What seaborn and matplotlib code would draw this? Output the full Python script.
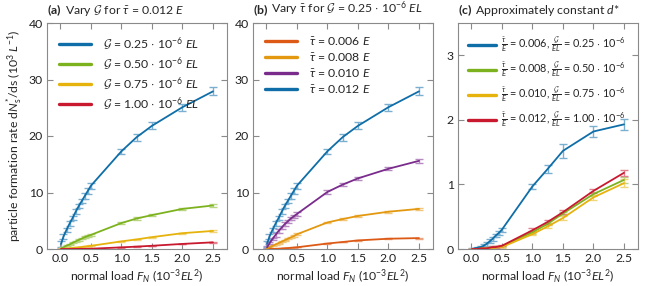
import numpy as np
import pandas as pd
import seaborn as sns
import matplotlib
matplotlib.use("Agg")
import matplotlib.pyplot as plt
from matplotlib.colors import to_rgb

# ---------------- data ----------------
load = [0.01, 0.05, 0.1, 0.15, 0.2, 0.25, 0.3, 0.35, 0.4, 0.45, 0.5, 1.0, 1.25, 1.5, 2.0, 2.5]

# tau = 0.012 E, G = 0.25e-6 EL
r_t012_g025 = [0.9, 2.2, 3.4, 4.5, 5.5, 6.6, 7.6, 8.5, 9.4, 10.3, 11.2, 17.3, 19.8, 21.8, 25.1, 27.9]
e_t012_g025 = [0.5, 0.4, 0.4, 0.4, 0.4, 0.4, 0.4, 0.4, 0.5, 0.5, 0.5, 0.4, 0.6, 0.6, 0.6, 0.7]
# tau = 0.012 E, G = 0.50e-6 EL
r_t012_g050 = [0.1, 0.3, 0.6, 0.8, 1.1, 1.35, 1.6, 1.85, 2.1, 2.3, 2.5, 4.6, 5.4, 6.0, 7.1, 7.7]
e_t012_g050 = [0.1, 0.1, 0.1, 0.1, 0.1, 0.1, 0.1, 0.1, 0.15, 0.15, 0.15, 0.15, 0.2, 0.2, 0.2, 0.2]
# tau = 0.012 E, G = 0.75e-6 EL
r_t012_g075 = [0.0, 0.03, 0.08, 0.13, 0.18, 0.24, 0.3, 0.36, 0.43, 0.5, 0.56, 1.35, 1.7, 2.1, 2.8, 3.2]
e_t012_g075 = [0.02, 0.03, 0.03, 0.04, 0.04, 0.05, 0.05, 0.05, 0.06, 0.06, 0.06, 0.08, 0.1, 0.1, 0.12, 0.12]
# tau = 0.012 E, G = 1.00e-6 EL
r_t012_g100 = [0.0, 0.0, 0.0, 0.01, 0.01, 0.01, 0.02, 0.03, 0.03, 0.04, 0.05, 0.29, 0.42, 0.57, 0.90, 1.18]
e_t012_g100 = [0.0, 0.0, 0.0, 0.0, 0.01, 0.01, 0.01, 0.01, 0.01, 0.01, 0.01, 0.03, 0.03, 0.03, 0.03, 0.05]
# tau = 0.006 E, G = 0.25e-6 EL
r_t006_g025 = [0.0, 0.01, 0.02, 0.03, 0.05, 0.08, 0.12, 0.16, 0.21, 0.25, 0.3, 0.97, 1.24, 1.52, 1.82, 1.93]
e_t006_g025 = [0.01, 0.01, 0.01, 0.02, 0.02, 0.03, 0.03, 0.03, 0.03, 0.03, 0.03, 0.04, 0.06, 0.11, 0.09, 0.09]
# tau = 0.008 E, G = 0.25e-6 EL
r_t008_g025 = [0.1, 0.3, 0.55, 0.8, 1.05, 1.3, 1.55, 1.8, 2.05, 2.3, 2.6, 4.7, 5.3, 5.85, 6.6, 7.1]
e_t008_g025 = [0.1, 0.1, 0.1, 0.1, 0.1, 0.1, 0.1, 0.1, 0.15, 0.15, 0.15, 0.15, 0.15, 0.2, 0.2, 0.2]
# tau = 0.010 E, G = 0.25e-6 EL
r_t010_g025 = [0.3, 1.0, 1.8, 2.5, 3.2, 3.8, 4.4, 4.9, 5.4, 5.8, 6.2, 10.1, 11.4, 12.5, 14.2, 15.6]
e_t010_g025 = [0.2, 0.2, 0.2, 0.3, 0.3, 0.3, 0.3, 0.3, 0.3, 0.3, 0.3, 0.3, 0.3, 0.3, 0.3, 0.4]
# tau = 0.008 E, G = 0.50e-6 EL
r_t008_g050 = [0.0, 0.0, 0.0, 0.01, 0.01, 0.01, 0.02, 0.02, 0.03, 0.03, 0.04, 0.26, 0.39, 0.55, 0.85, 1.07]
e_t008_g050 = [0.0, 0.0, 0.0, 0.0, 0.01, 0.01, 0.01, 0.01, 0.01, 0.01, 0.01, 0.02, 0.02, 0.03, 0.03, 0.05]
# tau = 0.010 E, G = 0.75e-6 EL
r_t010_g075 = [0.0, 0.0, 0.0, 0.0, 0.01, 0.01, 0.01, 0.02, 0.02, 0.03, 0.03, 0.23, 0.35, 0.48, 0.80, 1.02]
e_t010_g075 = [0.0, 0.0, 0.0, 0.0, 0.01, 0.01, 0.01, 0.01, 0.01, 0.01, 0.01, 0.02, 0.02, 0.03, 0.04, 0.06]

C_BLUE = "#0f6ea8"
C_GREEN = "#7db21f"
C_YELLOW = "#e6b30c"
C_RED = "#c8192f"
C_ORANGERED = "#dd5a16"
C_ORANGE = "#e3980f"
C_PURPLE = "#7a2c8c"

GVAL = r"$\mathcal{G}$"
TAU = r"$\tilde{\tau}$"

panel_a = [
    (r_t012_g025, e_t012_g025, C_BLUE, GVAL + r" = 0.25 $\cdot$ 10$^{-6}$ $EL$"),
    (r_t012_g050, e_t012_g050, C_GREEN, GVAL + r" = 0.50 $\cdot$ 10$^{-6}$ $EL$"),
    (r_t012_g075, e_t012_g075, C_YELLOW, GVAL + r" = 0.75 $\cdot$ 10$^{-6}$ $EL$"),
    (r_t012_g100, e_t012_g100, C_RED, GVAL + r" = 1.00 $\cdot$ 10$^{-6}$ $EL$"),
]
panel_b = [
    (r_t006_g025, e_t006_g025, C_ORANGERED, TAU + r" = 0.006 $E$"),
    (r_t008_g025, e_t008_g025, C_ORANGE, TAU + r" = 0.008 $E$"),
    (r_t010_g025, e_t010_g025, C_PURPLE, TAU + r" = 0.010 $E$"),
    (r_t012_g025, e_t012_g025, C_BLUE, TAU + r" = 0.012 $E$"),
]
FR_T = r"$\frac{\tilde{\tau}}{E}$"
FR_G = r"$\frac{\mathcal{G}}{EL}$"
panel_c = [
    (r_t006_g025, e_t006_g025, C_BLUE, FR_T + " = 0.006, " + FR_G + r" = 0.25 $\cdot$ 10$^{-6}$"),
    (r_t008_g050, e_t008_g050, C_GREEN, FR_T + " = 0.008, " + FR_G + r" = 0.50 $\cdot$ 10$^{-6}$"),
    (r_t010_g075, e_t010_g075, C_YELLOW, FR_T + " = 0.010, " + FR_G + r" = 0.75 $\cdot$ 10$^{-6}$"),
    (r_t012_g100, e_t012_g100, C_RED, FR_T + " = 0.012, " + FR_G + r" = 1.00 $\cdot$ 10$^{-6}$"),
]

# ---------------- style ----------------
sns.set_theme(style="ticks")
FONT = "Lato"
plt.rcParams["font.family"] = [FONT, "DejaVu Sans"]
plt.rcParams["mathtext.fontset"] = "custom"
plt.rcParams["mathtext.rm"] = FONT
plt.rcParams["mathtext.it"] = FONT + ":italic"
plt.rcParams["mathtext.bf"] = FONT + ":bold"
plt.rcParams["mathtext.cal"] = "cmsy10"
plt.rcParams["font.size"] = 8.5
GREY = "#8a8a8a"
FS = 8.8


def lighten(c, f=0.45):
    r, g, b = to_rgb(c)
    return (r + (1 - r) * f, g + (1 - g) * f, b + (1 - b) * f)


fig = plt.figure(figsize=(6.5, 2.86), dpi=100)
W = 180 / 650
H = 226 / 286
B = 37 / 286
lefts = [47 / 650, 253 / 650, 458 / 650]
axes = [fig.add_axes([l, B, W, H]) for l in lefts]

titles = [
    (r"$\mathbf{(a)}$", r" Vary $\mathcal{G}$ for $\tilde{\tau}$ = 0.012 $E$"),
    (r"$\mathbf{(b)}$", r" Vary $\tilde{\tau}$ for $\mathcal{G}$ = 0.25 $\cdot$ 10$^{-6}$ $EL$"),
    (r"$\mathbf{(c)}$", r" Approximately constant $d$*"),
]
panels = [panel_a, panel_b, panel_c]
ylims = [(0, 40), (0, 40), (0, 3.5)]
yticks = [[0, 10, 20, 30, 40], [0, 10, 20, 30, 40], [0, 1, 2, 3]]

for i, ax in enumerate(axes):
    for vals, errs, col, lab in panels[i]:
        df = pd.DataFrame({"load": load, "rate": vals})
        ax.errorbar(load, vals, yerr=errs, fmt="none", ecolor=lighten(col),
                    elinewidth=1.0, capsize=2.6, capthick=1.0, zorder=2)
        sns.lineplot(data=df, x="load", y="rate", ax=ax, color=col, lw=1.3,
                     label=lab, zorder=3)
    ax.set_xlim(-0.22, 2.73)
    ax.set_ylim(*ylims[i])
    ax.set_xticks([0.0, 0.5, 1.0, 1.5, 2.0, 2.5])
    ax.set_xticklabels(["0.0", "0.5", "1.0", "1.5", "2.0", "2.5"])
    ax.set_yticks(yticks[i])
    ax.tick_params(direction="in", length=4, width=0.8, color=GREY,
                   top=True, right=True, labelsize=FS, pad=3, labelcolor="#222222")
    for s in ax.spines.values():
        s.set_color(GREY)
        s.set_linewidth(0.8)
    ax.set_xlabel(r"normal load $F_N$ (10$^{-3}$$EL^2$)", fontsize=FS, labelpad=2)
    ax.set_ylabel("")
    if i < 2:
        leg = ax.legend(loc="upper left", frameon=False, fontsize=FS,
                        handlelength=2.6, handletextpad=1.0,
                        labelspacing=0.22 if i == 0 else 0.3,
                        borderaxespad=0.6)
    else:
        leg = ax.legend(loc="upper left", frameon=False, fontsize=7.8,
                        handlelength=2.6, handletextpad=0.5,
                        labelspacing=0.45, borderaxespad=0.5,
                        bbox_to_anchor=(0.0, 0.99))
    for h in leg.get_lines():
        h.set_linewidth(2.4)
    bold, rest = titles[i]
    t1 = ax.text(0.0, 1.02, bold, transform=ax.transAxes, fontsize=FS,
                 ha="left", va="bottom")
    fig.canvas.draw()
    bb = t1.get_window_extent()
    inv = ax.transAxes.inverted()
    x1 = inv.transform((bb.x1, bb.y0))[0]
    ax.text(x1, 1.02, rest, transform=ax.transAxes, fontsize=FS,
            ha="left", va="bottom")

axes[0].set_ylabel(r"particle formation rate d$N^{*}_{\mathrm{s}}$/ds (10$^3$ $L^{-1}$)",
                   fontsize=FS, labelpad=3)

fig.savefig("out.png", dpi=100)
